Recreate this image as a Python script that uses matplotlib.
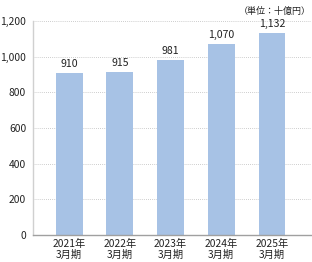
import matplotlib
matplotlib.use("Agg")
import matplotlib.pyplot as plt

plt.rcParams['font.family'] = ['Noto Sans CJK JP', 'DejaVu Sans']

categories = ["2021年\n3月期", "2022年\n3月期", "2023年\n3月期", "2024年\n3月期", "2025年\n3月期"]
values = [910, 915, 981, 1070, 1132]
value_labels = ["910", "915", "981", "1,070", "1,132"]
yticks = [0, 200, 400, 600, 800, 1000, 1200]
ytick_labels = ["0", "200", "400", "600", "800", "1,000", "1,200"]

fig = plt.figure(figsize=(3.12, 2.62), dpi=100)
ax = fig.add_axes([0.106, 0.103, 0.891, 0.817])

x = list(range(len(values)))
ax.bar(x, values, width=0.53, color="#a7c2e5", zorder=2)
for xi, v, lab in zip(x, values, value_labels):
    ax.text(xi, v + 22, lab, ha="center", va="bottom", fontsize=7.6, color="#222222")

ax.set_xlim(-0.71, 4.77)
ax.set_ylim(0, 1200)
ax.set_yticks(yticks)
ax.set_yticklabels(ytick_labels, fontsize=7.4, color="#222222")
ax.set_xticks(x)
ax.set_xticklabels(categories, fontsize=7.4, color="#222222", linespacing=1.1)
ax.tick_params(axis="both", length=0, pad=3)
ax.tick_params(axis="y", pad=5)

for yv in yticks[1:]:
    ax.axhline(yv, color="#bdbdbd", linewidth=0.6, linestyle=(0, (1, 1.5)), zorder=1)

ax.spines["right"].set_visible(False)
ax.spines["top"].set_visible(False)
ax.spines["left"].set_color("#d0d0d0")
ax.spines["left"].set_linewidth(1.0)
ax.spines["bottom"].set_color("#a0a0a0")
ax.spines["bottom"].set_linewidth(1.0)

fig.text(0.997, 0.975, "（単位：十億円）", ha="right", va="top", fontsize=6.5, color="#222222")

fig.savefig("out.png", dpi=100)
